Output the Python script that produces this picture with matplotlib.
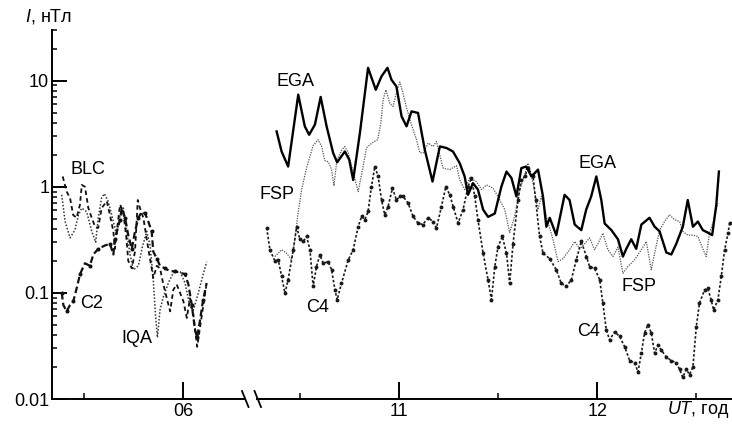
import numpy as np
import matplotlib
matplotlib.use("Agg")
import matplotlib.pyplot as plt
from matplotlib.lines import Line2D

plt.rcParams['font.family'] = ['Liberation Sans', 'DejaVu Sans']
plt.rcParams['font.size'] = 13
plt.rcParams['mathtext.fontset'] = 'custom'
plt.rcParams['mathtext.it'] = 'Liberation Sans:italic'
plt.rcParams['mathtext.rm'] = 'Liberation Sans'

# left part of the record (UT hours, nT)
iqa_t = [5.389, 5.406, 5.431, 5.455, 5.473, 5.490, 5.515, 5.540, 5.560, 5.573, 5.590, 5.604,
         5.624, 5.649, 5.666, 5.683, 5.699, 5.716, 5.733, 5.750, 5.775, 5.795, 5.817, 5.834,
         5.850, 5.861, 5.871, 5.884, 5.901, 5.926, 5.951, 5.985, 6.010, 6.035, 6.052, 6.077,
         6.094, 6.119]
iqa_v = [0.84, 0.47, 0.33, 0.39, 0.54, 0.63, 0.58, 0.38, 0.30, 0.51, 0.79, 0.86,
         0.72, 0.47, 0.35, 0.54, 0.63, 0.38, 0.23, 0.165, 0.18, 0.27, 0.38, 0.28,
         0.133, 0.062, 0.038, 0.069, 0.092, 0.124, 0.155, 0.158, 0.124, 0.074, 0.069, 0.10,
         0.133, 0.196]

blc_t = [5.394, 5.414, 5.431, 5.447, 5.464, 5.481, 5.490, 5.506, 5.523, 5.540, 5.557, 5.573,
         5.590, 5.616, 5.632, 5.649, 5.657, 5.666, 5.683, 5.699, 5.716, 5.724, 5.742, 5.758,
         5.772, 5.783, 5.800, 5.825, 5.842, 5.850, 5.868, 5.884, 5.901, 5.918, 5.935, 5.951,
         5.968, 5.985, 6.002, 6.019, 6.035, 6.052, 6.071, 6.086, 6.101, 6.116]
blc_v = [1.25, 0.90, 0.78, 0.54, 0.51, 0.68, 1.04, 1.0, 0.63, 0.51, 0.42, 0.41,
         0.63, 0.73, 0.54, 0.38, 0.26, 0.38, 0.68, 0.58, 0.31, 0.20, 0.17, 0.245,
         0.75, 0.63, 0.51, 0.26, 0.17, 0.138, 0.18, 0.17, 0.12, 0.089, 0.067, 0.107,
         0.12, 0.10, 0.083, 0.058, 0.089, 0.062, 0.031, 0.048, 0.074, 0.114]

c2_t = [5.389, 5.397, 5.414, 5.431, 5.447, 5.464, 5.481, 5.506, 5.531, 5.548, 5.573, 5.607,
        5.632, 5.649, 5.657, 5.671, 5.683, 5.691, 5.708, 5.724, 5.742, 5.758, 5.775, 5.792,
        5.809, 5.825, 5.842, 5.850, 5.868, 5.884, 5.909, 5.935, 5.960, 5.985, 6.010, 6.027,
        6.044, 6.060, 6.071, 6.086, 6.101, 6.119]
c2_v = [0.10, 0.077, 0.067, 0.077, 0.083, 0.11, 0.15, 0.19, 0.18, 0.23, 0.26, 0.28,
        0.29, 0.23, 0.32, 0.41, 0.49, 0.63, 0.51, 0.35, 0.26, 0.38, 0.51, 0.58,
        0.56, 0.47, 0.38, 0.245, 0.21, 0.18, 0.17, 0.16, 0.16, 0.155, 0.15, 0.12,
        0.077, 0.045, 0.038, 0.056, 0.086, 0.124]

# right part of the record
ega_t = [10.384, 10.409, 10.442, 10.493, 10.526, 10.548, 10.577, 10.606, 10.636, 10.669,
         10.689, 10.728, 10.750, 10.770, 10.804, 10.845, 10.884, 10.913, 10.943, 10.963,
         10.988, 11.014, 11.039, 11.064, 11.097, 11.131, 11.170, 11.207, 11.240, 11.273,
         11.307, 11.332, 11.349, 11.374, 11.399, 11.425, 11.450, 11.484, 11.517, 11.543,
         11.568, 11.593, 11.618, 11.643, 11.669, 11.702, 11.727, 11.744, 11.761, 11.794,
         11.836, 11.861, 11.887, 11.920, 11.945, 11.970, 11.996, 12.021, 12.038, 12.072,
         12.105, 12.130, 12.147, 12.172, 12.197, 12.223, 12.264, 12.290, 12.315, 12.349,
         12.374, 12.399, 12.432, 12.457, 12.483, 12.508, 12.533, 12.558, 12.580, 12.601,
         12.614]
ega_v = [3.32, 2.15, 1.55, 7.38, 3.71, 3.09, 3.85, 7.02, 3.71, 2.08,
         1.70, 2.15, 1.80, 1.16, 3.23, 13.2, 8.2, 11.0, 13.2, 10.2,
         8.8, 4.6, 3.71, 5.13, 4.96, 2.23, 1.12, 2.40, 2.32, 2.15,
         1.67, 1.25, 0.84, 1.08, 0.94, 0.61, 0.52, 0.56, 1.0, 1.39,
         1.21, 0.81, 1.50, 1.55, 1.25, 1.45, 0.81, 0.42, 0.51, 0.35,
         0.84, 0.75, 0.44, 0.39, 0.61, 0.81, 1.25, 0.75, 0.45, 0.39,
         0.32, 0.22, 0.26, 0.32, 0.26, 0.44, 0.51, 0.42, 0.38, 0.24,
         0.23, 0.29, 0.42, 0.75, 0.42, 0.47, 0.39, 0.37, 0.35, 0.68,
         1.39]

fsp_t = [10.375, 10.409, 10.434, 10.459, 10.476, 10.493, 10.510, 10.535, 10.568, 10.593,
         10.611, 10.627, 10.644, 10.661, 10.673, 10.688, 10.713, 10.728, 10.745, 10.770,
         10.795, 10.820, 10.837, 10.864, 10.894, 10.909, 10.921, 10.935, 10.955, 10.971,
         10.988, 11.005, 11.022, 11.039, 11.064, 11.089, 11.106, 11.122, 11.148, 11.173,
         11.190, 11.223, 11.257, 11.291, 11.307, 11.332, 11.358, 11.391, 11.417, 11.442,
         11.475, 11.500, 11.534, 11.559, 11.584, 11.610, 11.635, 11.651, 11.677, 11.702,
         11.719, 11.744, 11.777, 11.803, 11.828, 11.861, 11.887, 11.912, 11.937, 11.962,
         11.987, 12.004, 12.029, 12.054, 12.080, 12.105, 12.130, 12.155, 12.189, 12.223,
         12.248, 12.273, 12.290, 12.315, 12.340, 12.365, 12.390, 12.416, 12.432, 12.457,
         12.483, 12.508, 12.533, 12.550, 12.567, 12.583, 12.609]
fsp_v = [0.22, 0.255, 0.237, 0.205, 0.32, 0.58, 0.94, 1.51, 2.44, 2.78,
         2.39, 1.76, 1.72, 1.45, 1.02, 1.80, 2.23, 2.39, 2.09, 1.38,
         0.90, 1.55, 2.33, 2.58, 2.78, 3.93, 6.6, 8.2, 6.06, 5.72,
         7.7, 9.7, 7.5, 5.55, 3.84, 2.78, 2.09, 2.08, 2.58, 2.40,
         2.67, 1.50, 1.45, 1.58, 1.16, 0.94, 1.21, 1.12, 0.94, 1.04,
         0.97, 0.81, 0.61, 0.37, 0.525, 0.94, 1.30, 1.67, 1.08, 0.61,
         0.81, 0.525, 0.32, 0.197, 0.21, 0.255, 0.305, 0.26, 0.29, 0.33,
         0.255, 0.29, 0.365, 0.255, 0.22, 0.27, 0.153, 0.177, 0.205, 0.255,
         0.305, 0.165, 0.237, 0.39, 0.47, 0.545, 0.49, 0.47, 0.38, 0.35,
         0.35, 0.34, 0.26, 0.22, 0.37, 0.45, 0.70]

c4_t = [10.334, 10.350, 10.375, 10.392, 10.409, 10.426, 10.442, 10.468, 10.485, 10.501,
        10.518, 10.535, 10.552, 10.568, 10.585, 10.602, 10.619, 10.644, 10.661, 10.678,
        10.689, 10.711, 10.745, 10.770, 10.795, 10.812, 10.829, 10.845, 10.862, 10.879,
        10.896, 10.913, 10.929, 10.946, 10.968, 10.988, 11.005, 11.022, 11.047, 11.072,
        11.097, 11.121, 11.148, 11.173, 11.190, 11.215, 11.237, 11.257, 11.274, 11.299,
        11.324, 11.349, 11.366, 11.383, 11.399, 11.425, 11.450, 11.467, 11.484, 11.500,
        11.522, 11.543, 11.559, 11.576, 11.601, 11.618, 11.635, 11.651, 11.677, 11.690,
        11.710, 11.727, 11.761, 11.794, 11.819, 11.845, 11.870, 11.895, 11.920, 11.946,
        11.962, 11.987, 12.013, 12.029, 12.046, 12.063, 12.088, 12.113, 12.139, 12.164,
        12.189, 12.206, 12.223, 12.239, 12.256, 12.273, 12.290, 12.306, 12.323, 12.348,
        12.374, 12.399, 12.416, 12.432, 12.449, 12.466, 12.483, 12.500, 12.516, 12.542,
        12.558, 12.575, 12.587, 12.609, 12.626, 12.643, 12.660, 12.668]
c4_v = [0.41, 0.255, 0.20, 0.205, 0.143, 0.099, 0.133, 0.255, 0.42, 0.32,
        0.305, 0.34, 0.255, 0.115, 0.177, 0.228, 0.19, 0.197, 0.165, 0.107,
        0.086, 0.123, 0.205, 0.255, 0.42, 0.525, 0.49, 0.585, 1.0, 1.55,
        1.25, 0.75, 0.545, 0.65, 0.97, 0.75, 0.81, 0.81, 0.70, 0.525,
        0.455, 0.44, 0.51, 0.47, 0.41, 0.65, 1.0, 0.84, 0.65, 0.455,
        0.61, 1.0, 1.21, 0.81, 0.49, 0.237, 0.133, 0.086, 0.177, 0.27,
        0.34, 0.237, 0.123, 0.29, 0.75, 1.16, 1.25, 1.50, 1.25, 0.75,
        0.34, 0.237, 0.21, 0.165, 0.123, 0.115, 0.133, 0.205, 0.305, 0.22,
        0.177, 0.17, 0.133, 0.08, 0.045, 0.036, 0.043, 0.039, 0.031, 0.023,
        0.022, 0.018, 0.027, 0.042, 0.050, 0.042, 0.027, 0.032, 0.029, 0.025,
        0.023, 0.022, 0.019, 0.016, 0.019, 0.017, 0.020, 0.048, 0.080, 0.107,
        0.11, 0.086, 0.069, 0.086, 0.143, 0.255, 0.365, 0.455]

# curve labels: (text, time, value)
left_labels = [("BLC", 5.519, 1.45), ("C2", 5.539, 0.080), ("IQA", 5.768, 0.037)]
right_labels = [("EGA", 10.481, 9.9), ("FSP", 10.388, 0.84), ("C4", 10.589, 0.073),
                ("EGA", 12.0, 1.67), ("FSP", 12.212, 0.115), ("C4", 11.955, 0.043)]

W, H = 732, 426
fig = plt.figure(figsize=(W / 100, H / 100), dpi=100)
bot = (H - 399) / H
hgt = (399 - 30) / H
ax1 = fig.add_axes([52 / W, bot, (245 - 52) / W, hgt])
ax2 = fig.add_axes([257 / W, bot, (731 - 257) / W, hgt])

for ax in (ax1, ax2):
    ax.set_yscale('log')
    ax.set_ylim(0.01, 30)
    ax.patch.set_visible(False)
    for s in ('top', 'right'):
        ax.spines[s].set_visible(False)
    for s in ('left', 'bottom'):
        ax.spines[s].set_linewidth(1.4)
    ax.tick_params(which='major', direction='in', width=1.4, labelsize=13)
    ax.tick_params(which='minor', direction='in', width=1.1)
    ax.tick_params(axis='x', which='major', length=12, pad=3)
    ax.tick_params(axis='x', which='minor', length=4.5)

ax1.set_xlim(5.340, 6.312)
ax2.set_xlim(10.285, 12.675)

ax1.set_yticks([0.01, 0.1, 1, 10])
ax1.set_yticklabels(['0.01', '0.1', '1', '10'])
ax1.tick_params(axis='y', which='major', length=11, pad=2)
ax1.tick_params(axis='y', which='minor', length=3.5)
ax2.spines['left'].set_visible(False)
ax2.tick_params(axis='y', which='both', left=False, labelleft=False)

ax1.set_xticks([6])
ax1.set_xticklabels(['06'])
ax1.set_xticks([5.5], minor=True)
ax2.set_xticks([11, 12])
ax2.set_xticklabels(['11', '12'])
ax2.set_xticks([10.5, 11.5, 12.5], minor=True)

# left curves
ax1.plot(iqa_t, iqa_v, color='#333333', lw=1.1, ls=(0, (1, 1.2)),
         dash_joinstyle='round')
ax1.plot(blc_t, blc_v, color='#111111', lw=1.3, ls=(0, (2.5, 1.8)),
         dash_joinstyle='round')
ax1.plot(c2_t, c2_v, color='#111111', lw=1.6, ls=(0, (3, 1.5)),
         marker='o', ms=1.9, markevery=2, dash_joinstyle='round')

# right curves
ax2.plot(fsp_t, fsp_v, color='#555555', lw=0.9, ls=(0, (1, 1)),
         dash_joinstyle='round')
ax2.plot(c4_t, c4_v, color='#1a1a1a', lw=1.2, ls=(0, (1.5, 1.2)),
         marker='o', ms=1.8, dash_joinstyle='round')
ax2.plot(ega_t, ega_v, color='black', lw=1.7, solid_joinstyle='round')

for txt, t, v in left_labels:
    ax1.text(t, v, txt, ha='center', va='center', fontsize=13)
for txt, t, v in right_labels:
    ax2.text(t, v, txt, ha='center', va='center', fontsize=13)

fig.text(25 / W, 1 - 17 / H, r'$I$, нТл', ha='left', va='center', fontsize=13)
fig.text(730 / W, 1 - 410 / H, r'$UT$, год', ha='right', va='center', fontsize=13)

# axis break marks
for x0 in (242, 254.5):
    fig.add_artist(Line2D([x0 / W, (x0 + 6.5) / W], [1 - 391 / H, 1 - 407 / H],
                          color='black', lw=1.3))

fig.savefig('out.png', dpi=100)
